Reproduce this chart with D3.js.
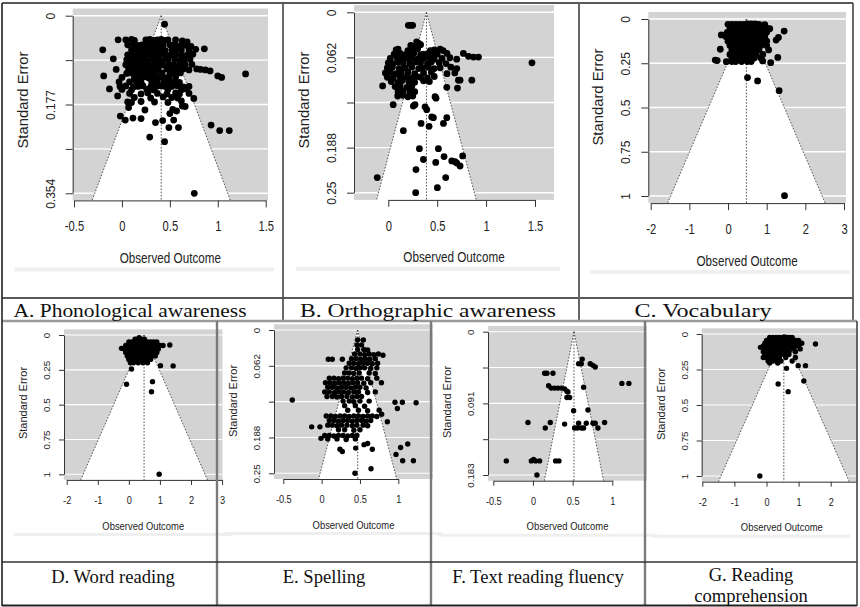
<!DOCTYPE html>
<html><head><meta charset="utf-8">
<script src="https://cdn.jsdelivr.net/npm/d3@7"></script>
<style>body{margin:0;background:#fff}svg{display:block}</style>
</head><body>
<svg id="c" width="860" height="607"></svg>
<script>
// ================= DATA =================
const panelTitles = ["A. Phonological awareness","B. Orthographic awareness","C. Vocabulary",
  "D. Word reading","E. Spelling","F. Text reading fluency",["G. Reading","comprehension"]];
const estimates = [0.41, 0.39, 0.475, 0.49, 0.47, 0.517, 0.54];
const maxSE = [0.354, 0.25, 1, 1, 0.25, 0.183, 1];
const seTicks = [
  [0,0.0885,0.177,0.2655,0.354],[0,0.0625,0.125,0.1875,0.25],[0,0.25,0.5,0.75,1],
  [0,0.25,0.5,0.75,1],[0,0.0625,0.125,0.1875,0.25],[0,0.04575,0.0915,0.13725,0.183],[0,0.25,0.5,0.75,1]];
const seTickLabels = [
  ["0","","0.177","","0.354"],["0","0.062","","0.188","0.25"],["0","0.25","0.5","0.75","1"],
  ["0","0.25","0.5","0.75","1"],["0","0.062","","0.188","0.25"],["0","","0.091","","0.183"],["0","0.25","0.5","0.75","1"]];
const xTicks = [[-0.5,0,0.5,1,1.5],[0,0.5,1,1.5],[-2,-1,0,1,2,3],[-2,-1,0,1,2,3],[-0.5,0,0.5,1],[-0.5,0,0.5,1],[-2,-1,0,1,2]];
const xLabel = "Observed Outcome";
const yLabel = "Standard Error";

// [observed outcome, standard error]
const pointsA = [
 [0.445,0.017],
 [-0.04,0.048],[0.04,0.048],[0.10,0.047],[0.13,0.049],[0.25,0.048],[0.29,0.047],[0.33,0.049],[0.37,0.048],[0.41,0.047],[0.45,0.049],[0.48,0.048],[0.56,0.048],[0.63,0.05],[0.68,0.052],
 [0.06,0.058],[0.12,0.057],[0.17,0.059],[0.21,0.058],[0.25,0.057],[0.30,0.059],[0.34,0.058],[0.38,0.057],[0.43,0.059],[0.50,0.058],[0.55,0.057],[0.60,0.06],[0.66,0.059],[0.72,0.061],
 [-0.20,0.068],[0.10,0.068],[0.15,0.067],[0.20,0.069],[0.24,0.068],[0.28,0.067],[0.32,0.069],[0.36,0.068],[0.40,0.067],[0.45,0.069],[0.52,0.068],[0.57,0.067],[0.62,0.069],[0.70,0.068],[0.77,0.067],[0.86,0.066],
 [0.06,0.078],[0.11,0.077],[0.16,0.079],[0.20,0.078],[0.26,0.077],[0.31,0.079],[0.35,0.078],[0.40,0.077],[0.46,0.079],[0.51,0.078],[0.56,0.077],[0.62,0.079],[0.68,0.078],[0.74,0.077],
 [-0.09,0.086],[0.05,0.088],[0.10,0.087],[0.14,0.089],[0.19,0.088],[0.23,0.087],[0.27,0.089],[0.33,0.088],[0.38,0.087],[0.42,0.089],[0.48,0.088],[0.55,0.087],[0.60,0.089],[0.65,0.088],[0.71,0.087],
 [0.04,0.098],[0.09,0.097],[0.15,0.099],[0.20,0.098],[0.25,0.097],[0.30,0.099],[0.35,0.098],[0.40,0.097],[0.44,0.099],[0.50,0.098],[0.54,0.097],[0.60,0.099],[0.66,0.098],[0.73,0.097],
 [-0.06,0.107],[0.07,0.107],[0.12,0.106],[0.18,0.108],[0.22,0.107],[0.27,0.106],[0.33,0.108],[0.38,0.107],[0.47,0.106],[0.53,0.108],[0.58,0.107],[0.64,0.106],[0.70,0.108],[0.78,0.106],[0.82,0.107],[0.87,0.108],
 [-0.19,0.12],[0.05,0.115],[0.10,0.114],[0.16,0.116],[0.20,0.115],[0.26,0.114],[0.30,0.116],[0.35,0.115],[0.42,0.114],[0.50,0.116],[0.55,0.115],[0.61,0.114],[0.92,0.11],[1.29,0.116],
 [0.00,0.123],[0.13,0.124],[0.18,0.123],[0.23,0.122],[0.28,0.124],[0.34,0.123],[0.40,0.122],[0.45,0.124],[0.49,0.123],[0.56,0.122],[1.00,0.12],[1.04,0.123],
 [-0.03,0.132],[0.08,0.132],[0.15,0.131],[0.20,0.133],[0.31,0.132],[0.37,0.131],[0.44,0.133],[0.50,0.132],[0.55,0.131],[0.60,0.133],
 [-0.02,0.141],[0.04,0.14],[0.12,0.142],[0.17,0.141],[0.22,0.14],[0.30,0.142],[0.36,0.141],[0.41,0.14],[0.46,0.142],[0.52,0.141],[0.58,0.14],[0.64,0.142],[0.70,0.141],
 [-0.13,0.146],[0.00,0.147],[0.10,0.148],[0.26,0.147],[0.33,0.148],[0.48,0.147],[0.62,0.148],[0.67,0.146],
 [0.08,0.155],[0.20,0.156],[0.27,0.154],[0.37,0.155],[0.47,0.156],[0.56,0.154],[0.60,0.156],[0.70,0.155],
 [-0.045,0.16],[0.13,0.163],[0.30,0.164],[0.43,0.162],[0.52,0.163],[0.58,0.164],[0.75,0.165],
 [0.06,0.172],[0.10,0.173],[0.20,0.171],[0.34,0.172],[0.48,0.173],[0.62,0.17],
 [0.07,0.183],[0.24,0.188],[0.53,0.187],[0.57,0.19],[0.63,0.18],[0.66,0.181],[0.50,0.195],
 [-0.017,0.2],[0.035,0.208],[0.115,0.204],[0.20,0.205],[0.54,0.208],[0.35,0.213],[0.425,0.209],
 [0.49,0.223],[0.59,0.223],[0.93,0.218],[1.02,0.229],[1.12,0.229],[0.29,0.242],[0.445,0.251],[0.755,0.354]
];
const pointsB = [
 [0.205,0.018],[0.232,0.018],[0.249,0.018],[0.29,0.041],[0.31,0.043],[0.23,0.046],[0.27,0.047],[0.33,0.045],
 [0.08,0.052],[0.10,0.051],[0.20,0.053],[0.25,0.052],[0.30,0.051],[0.43,0.053],[0.47,0.052],[0.53,0.051],[0.56,0.053],
 [0.06,0.058],[0.12,0.057],[0.16,0.059],[0.22,0.058],[0.26,0.057],[0.33,0.059],[0.36,0.058],[0.41,0.057],[0.45,0.059],[0.50,0.058],[0.60,0.057],[0.768,0.057],[0.82,0.061],[0.871,0.062],[0.922,0.062],
 [0.02,0.064],[0.09,0.063],[0.14,0.065],[0.20,0.064],[0.24,0.063],[0.30,0.065],[0.36,0.064],[0.42,0.063],[0.47,0.065],[0.55,0.064],[0.63,0.063],[0.70,0.065],
 [0.00,0.07],[0.05,0.071],[0.10,0.069],[0.15,0.07],[0.22,0.071],[0.28,0.069],[0.33,0.07],[0.40,0.071],[0.44,0.069],[0.52,0.07],[0.59,0.071],[1.469,0.07],
 [-0.01,0.077],[0.04,0.076],[0.11,0.078],[0.17,0.077],[0.24,0.076],[0.31,0.078],[0.35,0.077],[0.41,0.076],[0.47,0.078],[0.53,0.077],[0.64,0.076],[0.70,0.078],
 [-0.03,0.084],[0.02,0.083],[0.08,0.085],[0.13,0.084],[0.20,0.083],[0.27,0.085],[0.36,0.084],[0.44,0.083],[0.60,0.085],[0.68,0.084],
 [-0.01,0.09],[0.05,0.091],[0.12,0.089],[0.18,0.09],[0.24,0.091],[0.29,0.089],[0.33,0.09],[0.40,0.091],[0.47,0.089],
 [0.03,0.096],[0.10,0.097],[0.14,0.095],[0.21,0.096],[0.27,0.097],[0.36,0.095],[0.42,0.096],[0.717,0.094],[0.734,0.094],[0.854,0.094],
 [-0.058,0.102],[0.07,0.103],[0.12,0.102],[0.19,0.104],[0.24,0.103],[0.598,0.104],[0.707,0.105],
 [0.10,0.11],[0.15,0.109],[0.22,0.111],[0.27,0.11],
 [0.096,0.116],[0.147,0.115],[0.20,0.117],[0.25,0.116],[0.478,0.117],[0.488,0.119],
 [0.05,0.128],[0.256,0.13],[0.273,0.128],[0.376,0.131],[0.393,0.135],[0.444,0.145],[0.461,0.146],[0.598,0.146],
 [0.564,0.154],[0.335,0.154],[0.417,0.158],[0.154,0.164],
 [0.318,0.189],[0.512,0.189],[0.359,0.204],[0.283,0.218],[0.485,0.208],[0.57,0.2],[0.649,0.206],[0.683,0.207],[0.70,0.209],[0.734,0.213],[0.76,0.199],
 [-0.113,0.229],[0.587,0.229],[0.502,0.243],[0.28,0.25]
];
const pointsC = [
 [0.0,0.03],[0.1,0.03],[0.2,0.03],[0.3,0.03],[0.4,0.03],[0.5,0.028],[0.6,0.027],[0.7,0.028],[0.8,0.03],[0.95,0.032],
 [0.05,0.05],[0.15,0.05],[0.25,0.05],[0.35,0.05],[0.45,0.05],[0.55,0.05],[0.65,0.05],[0.75,0.05],[0.9,0.05],[1.0,0.052],[1.08,0.055],
 [-0.02,0.075],[0.08,0.075],[0.18,0.075],[0.28,0.075],[0.38,0.075],[0.48,0.075],[0.58,0.075],[0.68,0.075],[0.78,0.075],[0.88,0.075],[1.0,0.075],[1.452,0.068],
 [-0.05,0.1],[0.05,0.1],[0.15,0.1],[0.25,0.1],[0.35,0.1],[0.45,0.1],[0.55,0.1],[0.65,0.1],[0.75,0.1],[0.85,0.1],[0.95,0.1],[1.304,0.104],[-0.174,0.09],
 [0.0,0.125],[0.1,0.125],[0.2,0.125],[0.3,0.125],[0.4,0.125],[0.5,0.125],[0.6,0.125],[0.7,0.125],[0.8,0.125],[0.9,0.125],[1.0,0.125],[1.243,0.119],
 [0.05,0.15],[0.15,0.15],[0.25,0.15],[0.35,0.15],[0.45,0.15],[0.55,0.15],[0.65,0.15],[0.75,0.15],[0.85,0.15],[1.0,0.15],
 [-0.2,0.171],[0.1,0.175],[0.2,0.175],[0.3,0.175],[0.4,0.175],[0.5,0.175],[0.6,0.175],[0.7,0.175],[0.8,0.175],[1.05,0.175],
 [0.05,0.2],[0.15,0.2],[0.25,0.2],[0.35,0.2],[0.5,0.2],[0.62,0.2],[0.72,0.2],[0.9,0.2],
 [0.1,0.22],[0.2,0.22],[0.32,0.22],[0.45,0.22],[0.58,0.22],[0.68,0.22],[0.85,0.22],[1.287,0.217],
 [-0.33,0.232],[-0.28,0.235],[-0.043,0.241],[0.1,0.24],[0.2,0.24],[0.35,0.24],[0.5,0.24],[0.6,0.24],[0.896,0.237],[1.104,0.247],
 [0.504,0.331],[0.765,0.35],[1.322,0.405],[1.461,0.998]
];
const pointsD = [
 [0.33,0.019],[0.2,0.03],[0.3,0.03],[0.4,0.03],[0.5,0.03],
 [0.0,0.05],[0.1,0.05],[0.2,0.05],[0.3,0.05],[0.4,0.05],[0.5,0.05],[0.6,0.05],[0.7,0.05],[0.8,0.05],[0.9,0.05],
 [-0.1,0.075],[0.0,0.075],[0.1,0.075],[0.2,0.075],[0.3,0.075],[0.4,0.075],[0.5,0.075],[0.6,0.075],[0.7,0.075],[0.8,0.075],[0.9,0.075],[1.0,0.075],[1.1,0.075],[1.318,0.072],
 [-0.236,0.096],[-0.15,0.1],[-0.05,0.1],[0.05,0.1],[0.15,0.1],[0.25,0.1],[0.35,0.1],[0.45,0.1],[0.55,0.1],[0.65,0.1],[0.75,0.1],[0.85,0.1],[0.95,0.1],
 [-0.1,0.125],[0.0,0.125],[0.1,0.125],[0.2,0.125],[0.3,0.125],[0.4,0.125],[0.5,0.125],[0.6,0.125],[0.7,0.125],[0.8,0.125],[0.9,0.125],
 [-0.05,0.15],[0.05,0.15],[0.15,0.15],[0.25,0.15],[0.35,0.15],[0.45,0.15],[0.55,0.15],[0.65,0.15],[0.75,0.15],[0.85,0.15],
 [0.0,0.175],[0.1,0.175],[0.2,0.175],[0.3,0.175],[0.4,0.175],[0.5,0.175],[0.6,0.175],[0.7,0.175],
 [0.05,0.2],[0.15,0.2],[0.3,0.2],[0.45,0.2],[0.6,0.2],
 [0.086,0.244],[1.018,0.22],[1.425,0.222],[-0.075,0.354],[0.761,0.335],[0.729,0.407],[0.975,1.0]
];
const pointsE = [
 [0.47,0.0174],[0.544,0.0174],[0.46,0.026],[0.52,0.026],[0.47,0.034],[0.55,0.034],[0.6,0.035],
 [0.43,0.042],[0.5,0.042],[0.56,0.043],[0.62,0.042],[0.68,0.043],[0.74,0.042],[0.8,0.044],
 [0.087,0.051],[0.139,0.051],[0.27,0.051],[0.39,0.05],[0.45,0.05],[0.51,0.051],[0.57,0.05],[0.63,0.051],[0.7,0.05],
 [0.36,0.058],[0.42,0.058],[0.48,0.059],[0.54,0.058],[0.6,0.058],[0.66,0.059],[0.73,0.058],
 [0.32,0.066],[0.39,0.066],[0.45,0.067],[0.5,0.066],[0.56,0.066],[0.64,0.067],[0.72,0.066],
 [0.3,0.075],[0.36,0.075],[0.42,0.076],[0.49,0.075],[0.62,0.075],[0.7,0.076],
 [0.1,0.084],[0.16,0.084],[0.22,0.085],[0.28,0.084],[0.34,0.084],[0.4,0.085],[0.46,0.084],[0.52,0.084],[0.6,0.085],[0.72,0.084],
 [0.05,0.092],[0.11,0.092],[0.17,0.093],[0.23,0.092],[0.29,0.092],[0.35,0.093],[0.41,0.092],[0.47,0.092],[0.55,0.093],[0.64,0.092],[0.78,0.092],
 [0.08,0.1],[0.14,0.1],[0.2,0.101],[0.26,0.1],[0.32,0.1],[0.38,0.101],[0.44,0.1],[0.5,0.1],[0.58,0.101],
 [0.04,0.108],[0.1,0.108],[0.17,0.109],[0.23,0.108],[0.29,0.108],[0.35,0.109],[0.42,0.108],[0.48,0.108],[0.6,0.109],[0.7,0.108],
 [0.07,0.116],[0.14,0.116],[0.2,0.117],[0.26,0.116],[0.33,0.116],[0.4,0.117],[0.46,0.116],[0.52,0.116],
 [-0.383,0.122],[0.28,0.124],[0.36,0.124],[0.42,0.125],[0.5,0.124],[0.62,0.124],[0.957,0.126],[1.053,0.126],[1.232,0.127],
 [0.3,0.132],[0.44,0.132],[0.56,0.133],[0.988,0.137],[0.34,0.14],[0.48,0.14],[0.6,0.141],[0.75,0.14],[0.783,0.147],
 [0.06,0.15],[0.12,0.15],[0.18,0.151],[0.24,0.15],[0.3,0.15],[0.36,0.151],[0.42,0.15],[0.48,0.15],[0.54,0.151],[0.6,0.15],[0.66,0.15],[0.72,0.151],
 [0.1,0.158],[0.16,0.158],[0.22,0.159],[0.28,0.158],[0.34,0.158],[0.4,0.159],[0.46,0.158],[0.52,0.158],[0.58,0.159],[0.64,0.158],[0.857,0.16],
 [0.08,0.166],[0.14,0.166],[0.2,0.167],[0.26,0.166],[0.33,0.166],[0.4,0.167],[0.46,0.166],[0.54,0.166],[0.6,0.167],
 [-0.13,0.169],[-0.022,0.169],[0.22,0.174],[0.3,0.174],[0.42,0.175],[0.5,0.174],
 [0.04,0.184],[0.1,0.184],[0.16,0.185],[0.22,0.184],[0.28,0.184],[0.34,0.185],[0.4,0.184],[0.46,0.184],
 [-0.009,0.189],[0.08,0.19],[0.2,0.19],[0.32,0.191],[0.44,0.19],
 [0.239,0.208],[0.27,0.212],[0.444,0.206],[0.553,0.2],[0.661,0.208],[0.6,0.198],
 [0.97,0.217],[1.03,0.205],[1.123,0.199],[1.057,0.228],[1.197,0.228],[0.435,0.25],[0.644,0.242]
];
const pointsF = [
 [0.621,0.035],[0.575,0.041],[0.609,0.041],[0.722,0.041],[0.756,0.043],[0.785,0.045],
 [0.147,0.053],[0.176,0.053],[0.252,0.053],
 [0.197,0.069],[0.231,0.072],[0.273,0.072],[0.315,0.072],[0.357,0.072],[0.399,0.073],[0.428,0.076],
 [0.441,0.077],[0.428,0.084],[0.462,0.084],[0.638,0.071],[1.121,0.066],[1.209,0.066],
 [0.512,0.101],[0.693,0.1],
 [-0.063,0.116],[0.218,0.116],[0.155,0.123],[0.399,0.118],
 [0.525,0.123],[0.558,0.123],[0.575,0.117],[0.609,0.123],[0.638,0.123],[0.672,0.117],[0.756,0.117],[0.785,0.117],[0.819,0.123],[0.903,0.116],
 [-0.336,0.165],[-0.021,0.165],[0.008,0.163],[0.034,0.165],[0.084,0.165],[0.285,0.165],[0.327,0.165],
 [0.05,0.183]
];
const pointsG = [
 [0.1,0.025],[0.2,0.025],[0.3,0.025],[0.4,0.025],[0.5,0.025],[0.6,0.023],[0.7,0.025],[0.8,0.025],
 [0.0,0.045],[0.1,0.045],[0.2,0.045],[0.3,0.045],[0.4,0.045],[0.5,0.045],[0.6,0.045],[0.7,0.045],[0.8,0.045],[0.9,0.045],[1.0,0.045],
 [-0.05,0.065],[0.05,0.065],[0.15,0.065],[0.25,0.065],[0.35,0.065],[0.45,0.065],[0.55,0.065],[0.65,0.065],[0.75,0.065],[0.85,0.065],[0.95,0.065],[1.1,0.065],[1.526,0.07],
 [-0.187,0.094],[-0.1,0.085],[0.0,0.085],[0.1,0.085],[0.2,0.085],[0.3,0.085],[0.4,0.085],[0.5,0.085],[0.6,0.085],[0.7,0.085],[0.8,0.085],[0.9,0.085],[1.0,0.085],
 [-0.05,0.105],[0.05,0.105],[0.15,0.105],[0.25,0.105],[0.35,0.105],[0.45,0.105],[0.55,0.105],[0.65,0.105],[0.75,0.105],[0.85,0.105],[1.05,0.105],
 [-0.1,0.125],[0.0,0.125],[0.1,0.125],[0.2,0.125],[0.3,0.125],[0.4,0.125],[0.5,0.125],[0.6,0.125],[0.7,0.125],[0.9,0.125],
 [-0.05,0.145],[0.05,0.145],[0.15,0.145],[0.25,0.145],[0.35,0.145],[0.45,0.145],[0.55,0.145],[0.7,0.145],
 [-0.1,0.165],[0.0,0.165],[0.1,0.165],[0.2,0.165],[0.3,0.165],[0.4,0.165],[0.6,0.165],[0.9,0.165],
 [0.05,0.19],[0.2,0.19],[0.3,0.19],[0.45,0.19],[0.8,0.19],[0.1,0.205],[0.35,0.205],
 [0.623,0.242],[0.986,0.223],[1.215,0.223],[1.163,0.331],[0.363,0.352],[0.675,0.406],[-0.208,1.0]
];
const panelPoints = [pointsA, pointsB, pointsC, pointsD, pointsE, pointsF, pointsG];

// ================= LAYOUT (pixels) =================
const layout = [
 {rx:[72.7,268],  ry:[8.5,200.4],   xd:[-0.5,1.5], xr:[74,265.7],    yr:[15.7,193.3], row:0, labY:100},
 {rx:[354,554],   ry:[5.1,199.9],   xd:[0,1.5],    xr:[388.3,535],   yr:[12.3,192.7], row:0, labY:100},
 {rx:[648.3,846], ry:[11.9,203.1],  xd:[-2,3],     xr:[650.7,844],   yr:[19,196],     row:0, labY:97},
 {rx:[64,222.5],  ry:[329.4,479.9], xd:[-2,2],     xr:[66.7,191],    yr:[335,474.3],  row:1, labY:403},
 {rx:[274,433],   ry:[324.3,479],   xd:[-0.5,1],   xr:[283.3,398.3], yr:[330,473.3],  row:1, labY:401},
 {rx:[488,647],   ry:[326,480.7],   xd:[-0.5,1],   xr:[493.3,612.3], yr:[331.7,475],  row:1, labY:402},
 {rx:[701.7,862], ry:[328.3,481.7], xd:[-2,2],     xr:[702.3,830.7], yr:[334,476],    row:1, labY:404, clip:857, axisEnd:857}
];
const rowStyle = [
 {r:3.4, tick:7, tickFont:14,  tickSx:0.8, tickDy:26.5, yTickFont:12, yTickOff:22,  labFont:14.8, labSx:0.79, labDy:57.6, yLabOff:50},
 {r:2.7, tick:5, tickFont:11.5,tickSx:0.8, tickDy:20.5, yTickFont:9.8, yTickOff:17.5,labFont:11,   labSx:0.86, labDy:46,   yLabOff:41}
];
const sansFont = "'Liberation Sans', Arial, Helvetica, sans-serif";
const serifFont = "'Liberation Serif', 'Times New Roman', serif";

const svg = d3.select("#c");
svg.append("rect").attr("width",860).attr("height",607).attr("fill","#fff");

const defs = svg.append("defs");

panelPoints.forEach((pts, i) => {
  const L = layout[i], st = rowStyle[L.row];
  const x = d3.scaleLinear().domain(L.xd).range(L.xr);
  const y = d3.scaleLinear().domain([0, maxSE[i]]).range(L.yr);
  const g = svg.append("g");
  if (L.clip) {
    defs.append("clipPath").attr("id","clip"+i).append("rect")
      .attr("x",0).attr("y",0).attr("width",L.clip).attr("height",607);
    g.attr("clip-path","url(#clip"+i+")");
  }
  // faint image edge band
  g.append("rect").attr("x",L.rx[0]-(L.row?50:58)).attr("y",L.ry[1]+(L.row?53:67))
    .attr("width",Math.min((L.rx[1]-L.rx[0])+(L.row?60:64), 850-(L.rx[0]-(L.row?50:58)))).attr("height",L.row?3:4).attr("fill","#efefef");
  // background
  g.append("rect").attr("x",L.rx[0]).attr("y",L.ry[0]).attr("width",L.rx[1]-L.rx[0])
    .attr("height",L.ry[1]-L.ry[0]).attr("fill","#d3d3d3");
  // grid lines
  g.selectAll(".h").data(seTicks[i]).join("line")
    .attr("x1",L.rx[0]).attr("x2",L.rx[1]).attr("y1",d=>y(d)).attr("y2",d=>y(d))
    .attr("stroke","#fff").attr("stroke-width",L.row?1.1:1.4);
  // funnel
  const est = estimates[i];
  const seB = y.invert(L.ry[1]);
  const apex = [x(est), y(0)], lb = [x(est-1.96*seB), L.ry[1]], rb = [x(est+1.96*seB), L.ry[1]];
  g.append("polygon").attr("points",[apex,lb,rb].map(p=>p.join(",")).join(" ")).attr("fill","#fff");
  const dot = {stroke:"#444","stroke-width":0.9,"stroke-dasharray":"1.6,1.6",fill:"none"};
  [[apex,lb],[apex,rb],[apex,[x(est),L.ry[1]]]].forEach(s=>{
    const ln = g.append("line").attr("x1",s[0][0]).attr("y1",s[0][1]).attr("x2",s[1][0]).attr("y2",s[1][1]);
    Object.entries(dot).forEach(([k,v])=>ln.attr(k,v));
  });
  // points
  g.selectAll("circle").data(pts).join("circle")
    .attr("cx",d=>x(d[0])).attr("cy",d=>y(d[1])).attr("r",st.r).attr("fill","#000");
  // y axis
  const ya = g.append("g").attr("transform",`translate(${L.rx[0]},0)`)
    .call(d3.axisLeft(y).tickValues(seTicks[i]).tickFormat((d,j)=>seTickLabels[i][j]).tickSize(st.tick).tickSizeOuter(0));
  ya.selectAll("path,line").attr("stroke","#333").attr("stroke-width",1);
  ya.selectAll("text").attr("x",null).attr("dy",null)
    .attr("transform",`translate(${-st.yTickOff},0) rotate(-90)`)
    .attr("text-anchor","middle").attr("dominant-baseline","central")
    .attr("font-family",sansFont).attr("font-size",st.yTickFont).attr("fill","#222");
  // x axis
  const xt = xTicks[i];
  const endV = L.axisEnd ? x.invert(L.axisEnd) : xt[xt.length-1];
  const xs = x.copy().domain([xt[0], endV]).range([x(xt[0]), x(endV)]);
  const xa = g.append("g").attr("transform",`translate(0,${L.ry[1]})`)
    .call(d3.axisBottom(xs).tickValues(xt).tickFormat(d=>String(d)).tickSize(st.tick).tickSizeOuter(0));
  xa.selectAll("path,line").attr("stroke","#333").attr("stroke-width",1);
  xa.selectAll("text").attr("y",null).attr("dy",null)
    .attr("transform",`translate(0,${st.tickDy}) scale(${st.tickSx},1)`)
    .attr("text-anchor","middle").attr("dominant-baseline","central")
    .attr("font-family",sansFont).attr("font-size",st.tickFont).attr("fill","#222");
  // axis titles
  g.append("text").text(xLabel)
    .attr("transform",`translate(${(L.rx[0]+L.rx[1])/2},${L.ry[1]+st.labDy}) scale(${st.labSx},1)`)
    .attr("text-anchor","middle").attr("dominant-baseline","central")
    .attr("font-family",sansFont).attr("font-size",st.labFont).attr("fill","#222");
  g.append("text").text(yLabel)
    .attr("transform",`translate(${L.rx[0]-st.yLabOff},${L.labY}) rotate(-90)`)
    .attr("text-anchor","middle").attr("dominant-baseline","central")
    .attr("font-family",sansFont).attr("font-size",st.labFont).attr("fill","#222");
});

// ================= TABLE BORDERS =================
const dark = "#222", mid = "#7a7a7a";
const lines = [
 [2,3,853,3,dark,1.6],[2,298,853,298,dark,1.6],
 [283,3,283,321,"#444",1.6],[579,3,579,321,"#666",2],[853,3,853,321,"#444",1.6],
 [2,321,857,321,"#9a9a9a",2.4],
 [217,321,217,605,mid,2.4],[431,321,431,605,mid,2.4],[645,321,645,605,mid,2.4],
 [2,562,857,562,"#333",1.6],[2,605.5,857,605.5,dark,2],[857,321,857,606,"#444",1.6],
 [2,3,2,606,dark,1.6]
];
svg.selectAll(".bl").data(lines).join("line")
  .attr("x1",d=>d[0]).attr("y1",d=>d[1]).attr("x2",d=>d[2]).attr("y2",d=>d[3])
  .attr("stroke",d=>d[4]).attr("stroke-width",d=>d[5]);

// ================= CAPTIONS =================
const capPos = [
 {x:130,y:317,w:233},{x:428,y:317,w:256},{x:703,y:317,w:137},
 {x:113,y:583},{x:324,y:583},{x:538,y:583},{x:751,y:581,lh:21}
];
panelTitles.forEach((t,i)=>{
  const p = capPos[i];
  const tx = svg.append("text").attr("x",p.x).attr("y",p.y).attr("text-anchor","middle")
    .attr("font-family",serifFont).attr("font-size",18.6).attr("fill","#111");
  if (Array.isArray(t)) {
    t.forEach((s,k)=>tx.append("tspan").attr("x",p.x).attr("dy",k?p.lh:0).text(s));
  } else {
    tx.text(t);
    if (p.w) tx.attr("textLength",p.w).attr("lengthAdjust","spacingAndGlyphs");
  }
});
</script>
</body></html>
